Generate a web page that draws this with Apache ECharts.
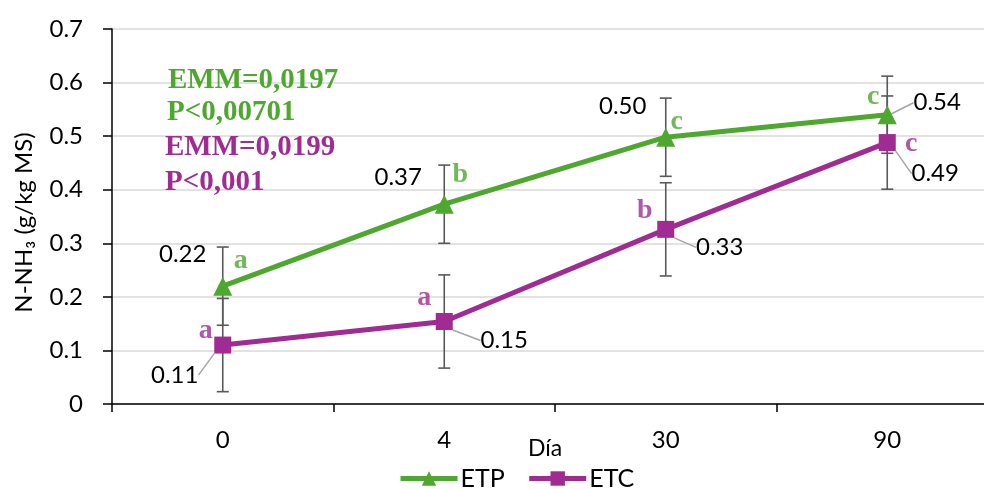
<!DOCTYPE html>
<html><head><meta charset="utf-8">
<script src="https://cdn.jsdelivr.net/npm/echarts@6/dist/echarts.min.js"></script>
<style>html,body{margin:0;padding:0;background:#fff}#c{width:984px;height:489px}</style>
</head><body><div id="c"></div>
<script>
// ---- data ----
const categories = ['0', '4', '30', '90'];
const etpValues = [0.22, 0.373, 0.498, 0.54];
const etcValues = [0.11, 0.154, 0.326, 0.488];
const etpErrors = [0.073, 0.073, 0.073, 0.072];
const etcErrors = [0.087, 0.087, 0.087, 0.087];
const etpLetters = ['a', 'b', 'c', 'c'];
const etcLetters = ['a', 'a', 'b', 'c'];
const yMin = 0, yMax = 0.7, yStep = 0.1;
const annotations = ['EMM=0,0197', 'P<0,00701', 'EMM=0,0199', 'P<0,001'];

// ---- styles / placement ----
const GREEN = '#4EA72E', PURPLE = '#A02B93';
const etpLabelOffsets = [[-40, -32], [-46, -27], [-43, -31], [50, -12]];
const etpLabelLines = [false, false, false, true];
const etcLabelOffsets = [[-48, 30], [60, 19], [54, 18], [48, 31]];
const etcLabelLines = [true, true, true, true];
const etpLetterOffsets = [[18, -25], [16, -29], [11, -15], [-14, -18]];
const etcLetterOffsets = [[-17, -14], [-20, -24], [-21, -19], [24, 1]];
const annColors = [GREEN, GREEN, PURPLE, PURPLE];
const annPos = [[168, 81], [167, 113], [165, 148], [165, 183]];

const chart = echarts.init(document.getElementById('c'));

function lineSeries(name, values, color, symbol, size, lineFlags) {
  return {
    name, type: 'line', symbol, symbolSize: size, z: 3,
    lineStyle: { color, width: 5 },
    itemStyle: { color },
    data: values.map((v, i) => ({ value: v, labelLine: { show: lineFlags[i] } })),
    label: {
      show: true, position: 'inside', color: '#000',
      fontFamily: 'Lato', fontSize: 24,
      formatter: p => p.value.toFixed(2)
    },
    labelLine: { show: true, lineStyle: { color: '#a6a6a6', width: 1.5 } },
    labelLayout: null
  };
}

const etpSeries = lineSeries('ETP', etpValues, GREEN, 'triangle', 19, etpLabelLines);
etpSeries.labelLayout = p => ({ dx: etpLabelOffsets[p.dataIndex][0], dy: etpLabelOffsets[p.dataIndex][1] });
const etcSeries = lineSeries('ETC', etcValues, PURPLE, 'rect', 17, etcLabelLines);
etcSeries.labelLayout = p => ({ dx: etcLabelOffsets[p.dataIndex][0], dy: etcLabelOffsets[p.dataIndex][1] });

function errorSeries(name, values, errs) {
  return {
    name, type: 'custom', z: 1, silent: true,
    data: values.map((v, i) => [i, v, errs[i]]),
    renderItem: (params, api) => {
      const c = api.value(0), v = api.value(1), e = api.value(2);
      const x = api.coord([c, v])[0];
      const yt = api.coord([c, v + e])[1];
      const yb = api.coord([c, v - e])[1];
      const st = { stroke: '#595959', lineWidth: 1.6 };
      return { type: 'group', children: [
        { type: 'line', shape: { x1: x, y1: yt, x2: x, y2: yb }, style: st },
        { type: 'line', shape: { x1: x - 6, y1: yt, x2: x + 6, y2: yt }, style: st },
        { type: 'line', shape: { x1: x - 6, y1: yb, x2: x + 6, y2: yb }, style: st }
      ]};
    }
  };
}

function letterSeries(name, values, letters, offsets, color) {
  return {
    name, type: 'scatter', symbolSize: 0, z: 4, silent: true,
    data: values.map((v, i) => ({
      value: [i, v],
      label: { offset: offsets[i], formatter: letters[i] }
    })),
    label: {
      show: true, position: 'inside', color,
      fontFamily: 'Liberation Serif', fontWeight: 'bold', fontSize: 28
    }
  };
}

chart.setOption({
  animation: false,
  backgroundColor: '#fff',
  grid: { left: 112, top: 29, width: 886, height: 375, outerBoundsMode: 'none', containLabel: false },
  legend: {
    data: ['ETP', 'ETC'], left: 393, top: 461,
    itemWidth: 57, itemHeight: 18, itemGap: 22,
    lineStyle: { width: 5 },
    textStyle: { fontFamily: 'Lato', fontSize: 25, color: '#000', padding: [0, 0, 0, -2] }
  },
  xAxis: {
    type: 'category', data: categories, boundaryGap: true,
    name: 'Día', nameLocation: 'middle', nameGap: 33, nameMoveOverlap: false,
    nameTextStyle: { fontFamily: 'Lato', fontSize: 23, color: '#000', padding: [0, 20, 0, 0] },
    axisLine: { lineStyle: { color: '#000', width: 1.5 } },
    axisTick: { show: true, length: 8, lineStyle: { color: '#000', width: 1.5 } },
    axisLabel: { fontFamily: 'Lato', fontSize: 24, color: '#000', margin: 24 },
    splitLine: { show: false }
  },
  yAxis: {
    type: 'value', min: yMin, max: yMax, interval: yStep,
    name: 'N-NH\u2083 (g/kg MS)', nameLocation: 'middle', nameRotate: 90, nameGap: 76, nameMoveOverlap: false,
    nameTextStyle: { fontFamily: 'Lato', fontSize: 24, color: '#000', padding: [0, 12, 0, 0] },
    axisLine: { show: true, lineStyle: { color: '#000', width: 1.5 } },
    axisTick: { show: true, length: 9, lineStyle: { color: '#000', width: 1.5 } },
    axisLabel: { fontFamily: 'Lato', fontSize: 24, color: '#000', margin: 29,
      formatter: v => v === 0 ? '0' : v.toFixed(1) },
    splitLine: { lineStyle: { color: '#d9d9d9', width: 1.5 } }
  },
  graphic: annotations.map((t, i) => ({
    type: 'text', left: annPos[i][0], top: annPos[i][1] - 15, z: 10,
    style: { text: t, fill: annColors[i], font: 'bold 29px "Liberation Serif"' }
  })),
  series: [
    errorSeries('errETP', etpValues, etpErrors),
    errorSeries('errETC', etcValues, etcErrors),
    etpSeries, etcSeries,
    letterSeries('letETP', etpValues, etpLetters, etpLetterOffsets, GREEN),
    letterSeries('letETC', etcValues, etcLetters, etcLetterOffsets, PURPLE)
  ]
});
</script></body></html>
